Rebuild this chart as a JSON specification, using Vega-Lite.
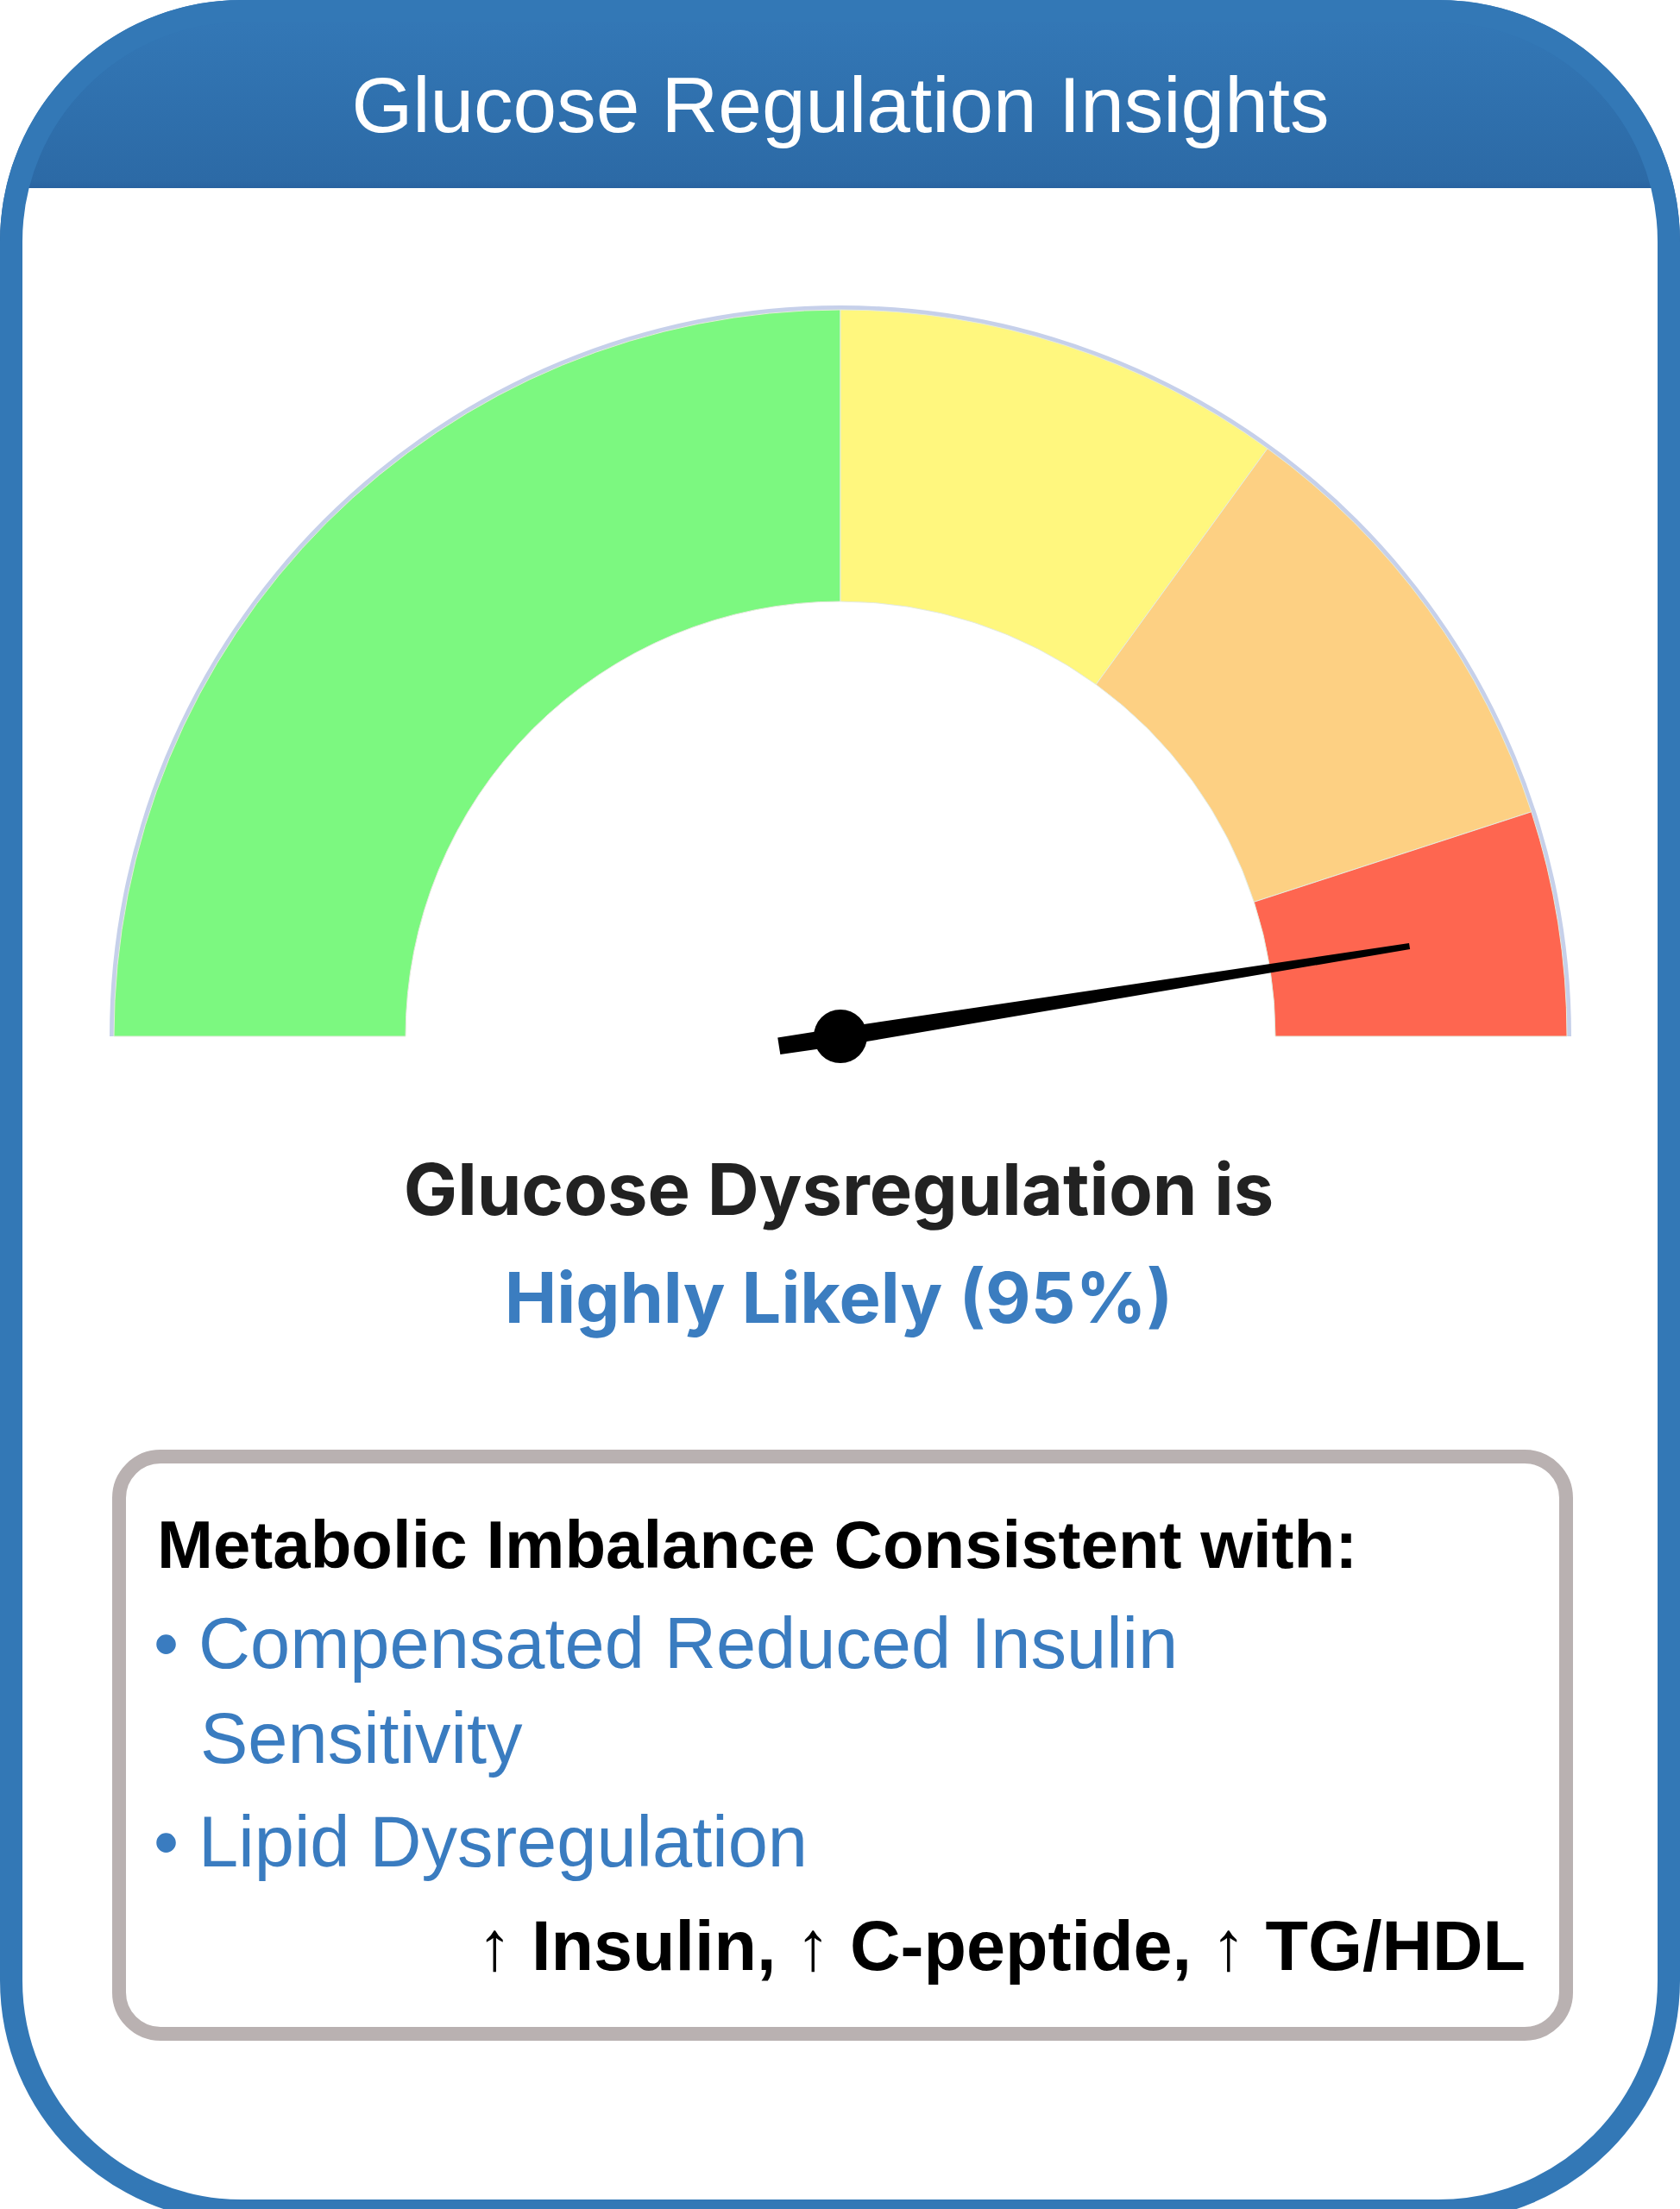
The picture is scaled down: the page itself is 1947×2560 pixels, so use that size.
{
  "$schema": "https://vega.github.io/schema/vega-lite/v6.json",
  "width": 1947,
  "height": 2560,
  "autosize": {"type": "fit", "contains": "padding"},
  "padding": 0,
  "background": "#ffffff",
  "config": {"view": {"stroke": null}},
  "layer": [
    {
      "data": {"values": [{"part": "header"}]},
      "mark": {"type": "rect", "x": 0, "x2": 1947, "y": 0, "y2": 580, "cornerRadiusTopLeft": 280, "cornerRadiusTopRight": 280,
        "fill": {"gradient": "linear", "x1": 0, "y1": 0, "x2": 0, "y2": 1, "stops": [{"offset": 0, "color": "#3479b8"}, {"offset": 0.36, "color": "#2c6aa6"}, {"offset": 0.376, "color": "#2862a0"}, {"offset": 1, "color": "#2862a0"}]}},
      "encoding": {}
    },
    {
      "data": {"values": [{"part": "body"}]},
      "mark": {"type": "rect", "x": 13, "x2": 1934, "y": 218, "y2": 760, "fill": "#ffffff"},
      "encoding": {}
    },
    {
      "data": {"values": [{"part": "card"}]},
      "mark": {"type": "rect", "x": 13, "x2": 1934, "y": 13, "y2": 2562, "cornerRadius": 267, "fill": null, "fillOpacity": 0, "stroke": "#3378b6", "strokeWidth": 26},
      "encoding": {}
    },
    {
      "data": {"values": [{"label": "Glucose Regulation Insights"}]},
      "mark": {"type": "text", "x": 974, "y": 153, "align": "center", "baseline": "alphabetic", "font": "Liberation Sans", "fontSize": 91, "color": "#ffffff"},
      "encoding": {"text": {"field": "label", "type": "nominal"}}
    },
    {
      "data": {"values": [{"part": "outline"}]},
      "mark": {"type": "arc", "x": 974, "y": 1201, "radius": 847, "radius2": 504, "fill": "#c6d0ea"},
      "encoding": {
        "theta": {"datum": 0, "type": "quantitative", "scale": {"domain": [0, 100], "range": [-1.5708, 1.5708]}},
        "theta2": {"datum": 100}
      }
    },
    {
      "data": {"values": [
        {"band": "Unlikely", "start": 0, "end": 50},
        {"band": "Possible", "start": 50, "end": 70},
        {"band": "Likely", "start": 70, "end": 90},
        {"band": "Highly Likely", "start": 90, "end": 100}
      ]},
      "mark": {"type": "arc", "x": 974, "y": 1201, "radius": 842, "radius2": 504, "stroke": "#e6ecdc", "strokeWidth": 1},
      "encoding": {
        "theta": {"field": "start", "type": "quantitative", "stack": null, "scale": {"domain": [0, 100], "range": [-1.5708, 1.5708]}},
        "theta2": {"field": "end"},
        "color": {"field": "band", "type": "nominal", "legend": null,
          "scale": {"domain": ["Unlikely", "Possible", "Likely", "Highly Likely"], "range": ["#7cf880", "#fff77e", "#fdd083", "#fe6650"]}}
      }
    },
    {
      "data": {"values": [{"metric": "Glucose Dysregulation", "value": 95}]},
      "mark": {"type": "point", "x": 974, "y": 1201, "shape": "M -0.014 0.103 L -0.014 0 L -0.005 -0.954 L 0.005 -0.954 L 0.0157 0 L 0.014 0.103 Z", "size": 1960000, "filled": true, "color": "#000000", "opacity": 1, "strokeWidth": 0},
      "encoding": {
        "angle": {"field": "value", "type": "quantitative", "scale": {"domain": [0, 100], "range": [-90, 90]}}
      }
    },
    {
      "data": {"values": [{"metric": "Glucose Dysregulation", "value": 95}]},
      "mark": {"type": "point", "x": 974, "y": 1201, "shape": "circle", "size": 3844, "filled": true, "color": "#000000", "opacity": 1, "strokeWidth": 0},
      "encoding": {}
    },
    {
      "data": {"values": [{"label": "Glucose Dysregulation is"}]},
      "mark": {"type": "text", "x": 972, "y": 1408, "align": "center", "baseline": "alphabetic", "font": "Inter", "fontWeight": "bold", "fontSize": 83, "color": "#222222"},
      "encoding": {"text": {"field": "label", "type": "nominal"}}
    },
    {
      "data": {"values": [{"label": "Highly Likely (95%)"}]},
      "mark": {"type": "text", "x": 972, "y": 1533, "align": "center", "baseline": "alphabetic", "font": "Inter", "fontWeight": "bold", "fontSize": 81, "color": "#3b7dc0"},
      "encoding": {"text": {"field": "label", "type": "nominal"}}
    },
    {
      "data": {"values": [{"part": "box"}]},
      "mark": {"type": "rect", "x": 138, "x2": 1815, "y": 1688, "y2": 2357, "cornerRadius": 48, "fill": "#ffffff", "stroke": "#b9b1b1", "strokeWidth": 16},
      "encoding": {}
    },
    {
      "data": {"values": [{"label": "Metabolic Imbalance Consistent with:"}]},
      "mark": {"type": "text", "x": 182, "y": 1817, "align": "left", "baseline": "alphabetic", "font": "Liberation Sans", "fontWeight": "bold", "fontSize": 78, "color": "#000000"},
      "encoding": {"text": {"field": "label", "type": "nominal"}}
    },
    {
      "data": {"values": [{"label": "• Compensated Reduced Insulin"}]},
      "mark": {"type": "text", "x": 178, "y": 1933, "align": "left", "baseline": "alphabetic", "font": "Liberation Sans", "fontSize": 83, "color": "#3a7cc0"},
      "encoding": {"text": {"field": "label", "type": "nominal"}}
    },
    {
      "data": {"values": [{"label": "Sensitivity"}]},
      "mark": {"type": "text", "x": 232, "y": 2043, "align": "left", "baseline": "alphabetic", "font": "Liberation Sans", "fontSize": 83, "color": "#3a7cc0"},
      "encoding": {"text": {"field": "label", "type": "nominal"}}
    },
    {
      "data": {"values": [{"label": "• Lipid Dysregulation"}]},
      "mark": {"type": "text", "x": 178, "y": 2163, "align": "left", "baseline": "alphabetic", "font": "Liberation Sans", "fontSize": 83, "color": "#3a7cc0"},
      "encoding": {"text": {"field": "label", "type": "nominal"}}
    },
    {
      "data": {"values": [{"label": "↑ Insulin, ↑ C-peptide, ↑ TG/HDL"}]},
      "mark": {"type": "text", "x": 1768, "y": 2283, "align": "right", "baseline": "alphabetic", "font": "Liberation Sans", "fontWeight": "bold", "fontSize": 81, "color": "#000000"},
      "encoding": {"text": {"field": "label", "type": "nominal"}}
    }
  ]
}
